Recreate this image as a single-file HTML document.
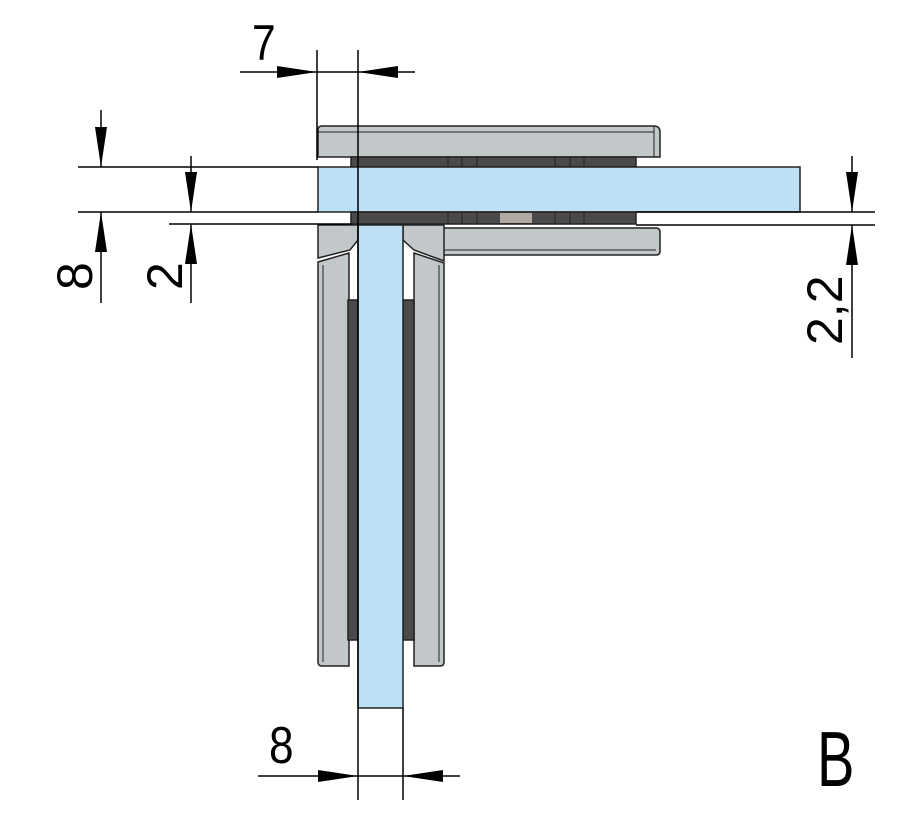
<!DOCTYPE html>
<html><head><meta charset="utf-8"><style>
html,body{margin:0;padding:0;background:#fff;}
svg{display:block}
text{font-family:"Liberation Sans",sans-serif;fill:#000}
</style></head><body>
<svg width="909" height="821" viewBox="0 0 909 821" xmlns="http://www.w3.org/2000/svg">
<defs>
<marker id="a" viewBox="0 0 40 12" refX="40" refY="6" markerWidth="40" markerHeight="12" markerUnits="userSpaceOnUse" orient="auto"><path d="M0,0 L40,6 L0,12 Z" fill="#000"/></marker>
</defs>
<g stroke="#222" stroke-width="1.5">
<path d="M322,126 H654 Q660,126 660,132 V157 H318 V130 Q318,126 322,126 Z" fill="#c2c7ca"/>
<line x1="318" y1="132" x2="654" y2="132" stroke-width="1"/>
<line x1="654" y1="126" x2="654" y2="157" stroke-width="1"/>
<rect x="351" y="157" width="285" height="10" fill="#4a4a4a"/>
<rect x="318" y="167" width="482" height="45" fill="#bde0f6"/>
<rect x="351" y="212" width="285" height="12" fill="#4a4a4a"/>
<rect x="500" y="213" width="32" height="10" fill="#b0a8a2" stroke="none"/>
<g stroke="#222" stroke-width="1">
<line x1="448" y1="157" x2="448" y2="167"/><line x1="462" y1="157" x2="462" y2="167"/><line x1="477" y1="157" x2="477" y2="167"/><line x1="555" y1="157" x2="555" y2="167"/><line x1="570" y1="157" x2="570" y2="167"/><line x1="584" y1="157" x2="584" y2="167"/>
<line x1="448" y1="212" x2="448" y2="224"/><line x1="462" y1="212" x2="462" y2="224"/><line x1="477" y1="212" x2="477" y2="224"/><line x1="555" y1="212" x2="555" y2="224"/><line x1="570" y1="212" x2="570" y2="224"/><line x1="584" y1="212" x2="584" y2="224"/>
</g>
<path d="M443,228 H656 Q660,228 660,232 V251 Q660,255 656,255 H443 Z" fill="#c2c7ca"/>
<line x1="443" y1="250" x2="656" y2="250" stroke-width="1"/>
<path d="M318,225 H358 V240 L350,250 L318,258 Z" fill="#c2c7ca"/>
<path d="M318,262 L349,253 V666 H322 Q318,666 318,662 Z" fill="#c2c7ca"/>
<line x1="323" y1="265" x2="323" y2="662" stroke-width="1"/>
<rect x="348" y="300" width="10" height="340" fill="#4a4a4a"/>
<path d="M403,225 H444 V261 L414,250 L403,240 Z" fill="#c2c7ca"/>
<path d="M414,253 L444,263 V662 Q444,666 440,666 H414 Z" fill="#c2c7ca"/>
<line x1="439" y1="265" x2="439" y2="662" stroke-width="1"/>
<rect x="403" y="300" width="11" height="340" fill="#4a4a4a"/>
<rect x="358" y="225" width="45" height="483" fill="#bde0f6"/>
</g>
<g stroke="#000" stroke-width="1.5" fill="none">
<line x1="317" y1="50" x2="317" y2="160"/>
<line x1="358" y1="50" x2="358" y2="800"/>
<line x1="403" y1="708" x2="403" y2="800"/>
<line x1="240" y1="72" x2="317" y2="72" marker-end="url(#a)"/>
<line x1="415" y1="72" x2="358" y2="72" marker-end="url(#a)"/>
<line x1="317" y1="72" x2="358" y2="72"/>
<line x1="78" y1="167" x2="318" y2="167"/>
<line x1="78" y1="212" x2="318" y2="212"/>
<line x1="101" y1="110" x2="101" y2="167" marker-end="url(#a)"/>
<line x1="101" y1="303" x2="101" y2="212" marker-end="url(#a)"/>
<line x1="169" y1="224" x2="351" y2="224"/>
<line x1="191" y1="156" x2="191" y2="212" marker-end="url(#a)"/>
<line x1="191" y1="303" x2="191" y2="224" marker-end="url(#a)"/>
<line x1="636" y1="212" x2="875" y2="212"/>
<line x1="636" y1="225" x2="875" y2="225"/>
<line x1="852" y1="156" x2="852" y2="212" marker-end="url(#a)"/>
<line x1="852" y1="358" x2="852" y2="225" marker-end="url(#a)"/>
<line x1="258" y1="776" x2="358" y2="776" marker-end="url(#a)"/>
<line x1="460" y1="776" x2="403" y2="776" marker-end="url(#a)"/>
<line x1="358" y1="776" x2="403" y2="776"/>
</g>
<text transform="translate(252,60) scale(0.85,1)" font-size="50">7</text>
<text transform="translate(269,763) scale(0.85,1)" font-size="52">8</text>
<text transform="translate(92,290) rotate(-90)" font-size="50">8</text>
<text transform="translate(182,290) rotate(-90)" font-size="50">2</text>
<text transform="translate(842,345) rotate(-90)" font-size="50">2,2</text>
<text transform="translate(817,786) scale(0.72,1)" font-size="78">B</text>
</svg>
</body></html>
